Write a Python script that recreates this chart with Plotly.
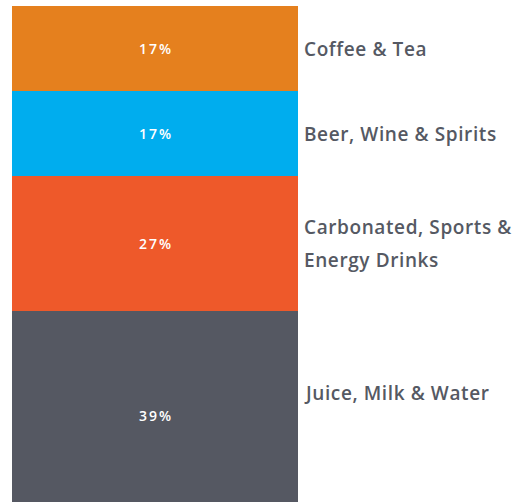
import plotly.graph_objects as go

# Share of beverage categories, listed bottom to top of the stack
categories = ["Juice, Milk & Water", "Carbonated, Sports &<br>Energy Drinks",
              "Beer, Wine & Spirits", "Coffee & Tea"]
shares = [39, 27, 17, 17]
value_labels = ["39%", "27%", "17%", "17%"]
colors = ["#555862", "#EE592A", "#00ADEE", "#E5801E"]

LABEL_GRAY = "#555963"
FONT = "Open Sans"

fig = go.Figure()
for cat, val, col in zip(categories, shares, colors):
    fig.add_trace(go.Bar(
        x=[0], y=[val], name=cat.replace("<br>", " "),
        marker=dict(color=col, line=dict(width=0)),
        width=1, hoverinfo="skip", showlegend=False,
    ))

# per-segment vertical nudges (pixels) for the value and category labels
value_shift = [-7, 0, 0, 0]
cat_shift = [16, 0, 0, 0]
LINE_GAP = 33

annotations = []
base = 0
for i, (cat, val, lab) in enumerate(zip(categories, shares, value_labels)):
    mid = base + val / 2
    base += val
    annotations.append(dict(
        x=0, y=mid, xref="x", yref="y",
        text=f'<span style="letter-spacing:2px">{lab}</span>', showarrow=False,
        yshift=value_shift[i], xshift=1,
        font=dict(family=FONT, size=14, color="white", weight=600),
    ))
    lines = cat.split("<br>")
    n = len(lines)
    for j, line in enumerate(lines):
        annotations.append(dict(
            x=1, y=mid, xref="paper", yref="y",
            text=f'<span style="letter-spacing:0.6px">{line}</span>',
            showarrow=False, xanchor="left", xshift=4,
            yshift=cat_shift[i] + ((n - 1) / 2 - j) * LINE_GAP,
            font=dict(family=FONT, size=19, color=LABEL_GRAY, weight=650),
        ))

fig.update_layout(
    barmode="stack", bargap=0,
    width=521, height=502,
    margin=dict(l=12, r=223, t=6, b=0, pad=0),
    paper_bgcolor="white", plot_bgcolor="white",
    xaxis=dict(visible=False, range=[-0.5, 0.5], fixedrange=True),
    yaxis=dict(visible=False, range=[0.8, 100], fixedrange=True),
    annotations=annotations,
)

fig.write_html("out.html", config={"displayModeBar": False})
